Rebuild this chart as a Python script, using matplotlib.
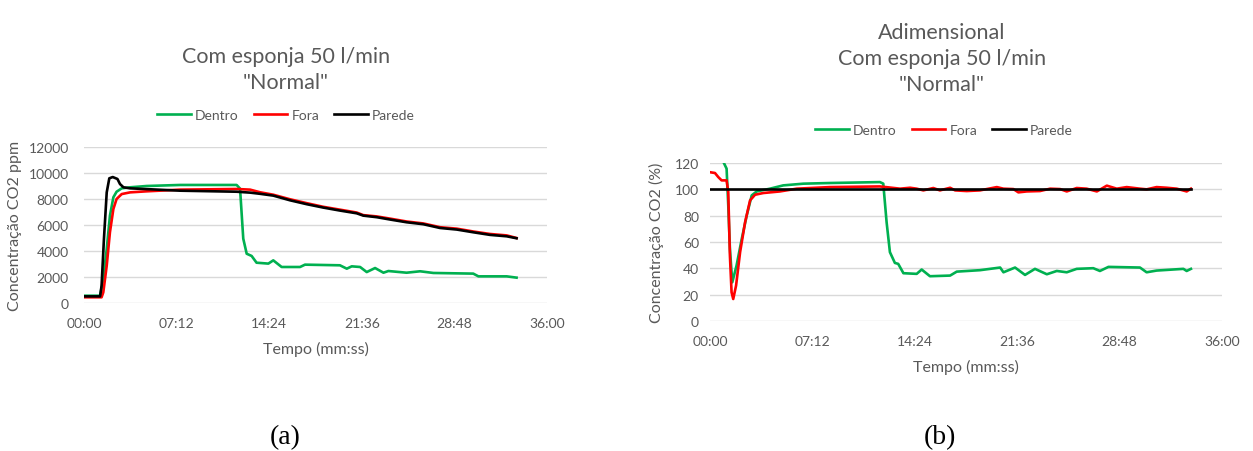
import matplotlib
matplotlib.use("Agg")
import matplotlib.pyplot as plt
from matplotlib.ticker import FuncFormatter, MultipleLocator
import numpy as np

plt.rcParams['font.family'] = ['Lato', 'DejaVu Sans']

# ---- (a) concentração em ppm, tempo em segundos ----
t_dentro_a = [0, 75, 90, 106, 121, 137, 152, 176, 215, 292, 448, 712, 728, 743, 759, 782,
              805, 860, 883, 922, 1008, 1031, 1194, 1226, 1249, 1288, 1319, 1358, 1397,
              1420, 1505, 1568, 1630, 1816, 1840, 1972, 2018]
dentro_a = [560, 560, 1850, 4150, 6720, 8130, 8560, 8820, 8900, 9000, 9080, 9080, 8800,
            4950, 3790, 3620, 3100, 3030, 3280, 2770, 2770, 2950, 2900, 2640, 2820, 2770,
            2380, 2690, 2330, 2460, 2330, 2440, 2310, 2260, 2050, 2050, 1950]

t_fora_a = [0, 82, 90, 106, 121, 137, 152, 176, 215, 292, 448, 712, 775, 821, 883, 961,
            1039, 1116, 1194, 1272, 1303, 1366, 1428, 1505, 1583, 1661, 1739, 1816, 1894,
            1972, 2018]
fora_a = [440, 440, 820, 2870, 5440, 7230, 8000, 8380, 8510, 8590, 8720, 8770, 8720, 8520,
          8330, 7980, 7680, 7400, 7180, 6960, 6760, 6660, 6490, 6270, 6120, 5830, 5720,
          5500, 5310, 5200, 5000]

t_parede_a = [0, 75, 82, 93, 106, 118, 134, 156, 168, 184, 215, 448, 712, 775, 821, 883,
              961, 1039, 1116, 1194, 1272, 1303, 1366, 1428, 1505, 1583, 1661, 1739, 1816,
              1894, 1972, 2018]
parede_a = [510, 510, 1330, 4920, 8510, 9590, 9690, 9540, 9150, 8900, 8820, 8640, 8560,
            8490, 8400, 8260, 7900, 7600, 7340, 7110, 6900, 6720, 6600, 6420, 6210, 6060,
            5770, 5650, 5440, 5240, 5130, 4980]

# ---- (b) adimensional (%) ----
t_dentro_b = [0, 56, 70, 77, 84, 94, 112, 134, 155, 176, 197, 253, 309, 394, 506, 717, 731,
              745, 759, 780, 794, 816, 872, 893, 928, 1013, 1041, 1139, 1224, 1238, 1287,
              1329, 1371, 1421, 1463, 1505, 1547, 1617, 1645, 1681, 1814, 1842, 1884, 1997,
              2011, 2029]
dentro_b = [135, 121, 115.7, 87.8, 54.8, 29.4, 42.1, 62.4, 80.2, 95.4, 98.4, 100.5, 103,
            104.3, 104.8, 105.5, 104.3, 75.1, 52.3, 44.1, 43.4, 36.3, 35.8, 39.1, 34, 34.5,
            37.5, 38.6, 40.6, 37, 40.6, 35, 39.6, 35.5, 38, 37, 39.6, 40.1, 38, 41.1, 40.6,
            37, 38.3, 39.6, 38, 39.6]

t_fora_b = [0, 21, 35, 49, 70, 77, 84, 91, 98, 110, 127, 148, 169, 190, 225, 295, 366, 506,
            717, 802, 844, 872, 900, 942, 970, 1013, 1034, 1083, 1139, 1210, 1238, 1280,
            1301, 1336, 1392, 1435, 1477, 1505, 1547, 1589, 1632, 1674, 1716, 1758, 1814,
            1842, 1884, 1927, 1969, 2011, 2029]
fora_b = [113, 112.4, 109.3, 106.8, 106.8, 98, 49.7, 21.8, 16.7, 26.9, 52.3, 75, 91.6, 95.9,
          97.2, 98.4, 100.5, 101.7, 102.2, 100.5, 101.2, 100.5, 99.2, 101, 99.2, 101.2,
          99.2, 98.7, 99.2, 101.7, 100.5, 100.2, 97.7, 98.4, 98.7, 100.5, 100.2, 98.4, 101,
          100.5, 98.4, 102.8, 100.5, 101.7, 100.5, 100, 101.7, 101.2, 100.5, 98.4, 100.5]

t_parede_b = [0, 2029]
parede_b = [100, 100]

legend_labels = ['Dentro', 'Fora', 'Parede']
colors = ['#00B050', '#FF0000', '#000000']
xticks = [0, 432, 864, 1296, 1728, 2160]

W, H = 1253, 452
gray = '#595959'


def fx(x):
    return x / W


def fy(y):
    return 1 - y / H


def mmss(v, pos=None):
    v = int(round(v))
    return f"{v // 60:02d}:{v % 60:02d}"


def style_axis(ax, ymax, ystep, ypad):
    ax.set_xlim(0, 2160)
    ax.set_ylim(0, ymax)
    ax.set_xticks(xticks)
    ax.xaxis.set_major_formatter(FuncFormatter(mmss))
    ax.yaxis.set_major_locator(MultipleLocator(ystep))
    ax.grid(axis='y', color='#d9d9d9', lw=1)
    ax.set_axisbelow(True)
    for s in ax.spines.values():
        s.set_visible(False)
    ax.tick_params(length=0, labelsize=10, colors=gray)
    ax.tick_params(axis='x', pad=10)
    ax.tick_params(axis='y', pad=ypad)


fig = plt.figure(figsize=(W / 100, H / 100), dpi=100)

# chart (a)
ax1 = fig.add_axes([fx(84), fy(304), fx(547) - fx(84), fy(148) - fy(304)])
series_a = [(t_dentro_a, dentro_a), (t_fora_a, fora_a), (t_parede_a, parede_a)]
for (t, v), c, lab in zip(series_a, colors, legend_labels):
    ax1.plot(t, v, color=c, lw=1.9, label=lab, solid_joinstyle='round')
style_axis(ax1, 12000, 2000, 11)
ax1.set_xlabel('Tempo (mm:ss)', fontsize=11.5, color=gray, labelpad=9)
ax1.set_ylabel('Concentração CO2 ppm', fontsize=11.5, color=gray)
ax1.yaxis.set_label_coords((22 - 84) / 463, 0.5)
fig.text(fx(286), fy(70), 'Com esponja 50 l/min\n"Normal"', ha='center', va='center',
         fontsize=15.5, color=gray, linespacing=1.4)
h, l = ax1.get_legend_handles_labels()
fig.legend(h, l, loc='center', bbox_to_anchor=(fx(286), fy(116)), ncol=3, frameon=False,
           fontsize=10, labelcolor=gray, handlelength=2.4, handletextpad=0.3,
           columnspacing=1.1)
fig.text(fx(285), fy(438), '(a)', ha='center', va='center', fontsize=20,
         family='Liberation Serif', color='black')

# chart (b)
ax2 = fig.add_axes([fx(710), fy(322), fx(1222) - fx(710), fy(164) - fy(322)])
series_b = [(t_dentro_b, dentro_b), (t_fora_b, fora_b), (t_parede_b, parede_b)]
for (t, v), c, lab in zip(series_b, colors, legend_labels):
    ax2.plot(t, v, color=c, lw=1.9, label=lab, solid_joinstyle='round')
style_axis(ax2, 120, 20, 8)
ax2.set_xlabel('Tempo (mm:ss)', fontsize=11.5, color=gray, labelpad=9)
ax2.set_ylabel('Concentração CO2 (%)', fontsize=11.5, color=gray)
ax2.yaxis.set_label_coords((664 - 710) / 512, 0.5)
fig.text(fx(942), fy(59), 'Adimensional\nCom esponja 50 l/min\n"Normal"', ha='center',
         va='center', fontsize=15.5, color=gray, linespacing=1.4)
h, l = ax2.get_legend_handles_labels()
fig.legend(h, l, loc='center', bbox_to_anchor=(fx(944), fy(131)), ncol=3, frameon=False,
           fontsize=10, labelcolor=gray, handlelength=2.4, handletextpad=0.3,
           columnspacing=1.1)
fig.text(fx(940), fy(438), '(b)', ha='center', va='center', fontsize=20,
         family='Liberation Serif', color='black')

fig.savefig('out.png', dpi=100, facecolor='white')
